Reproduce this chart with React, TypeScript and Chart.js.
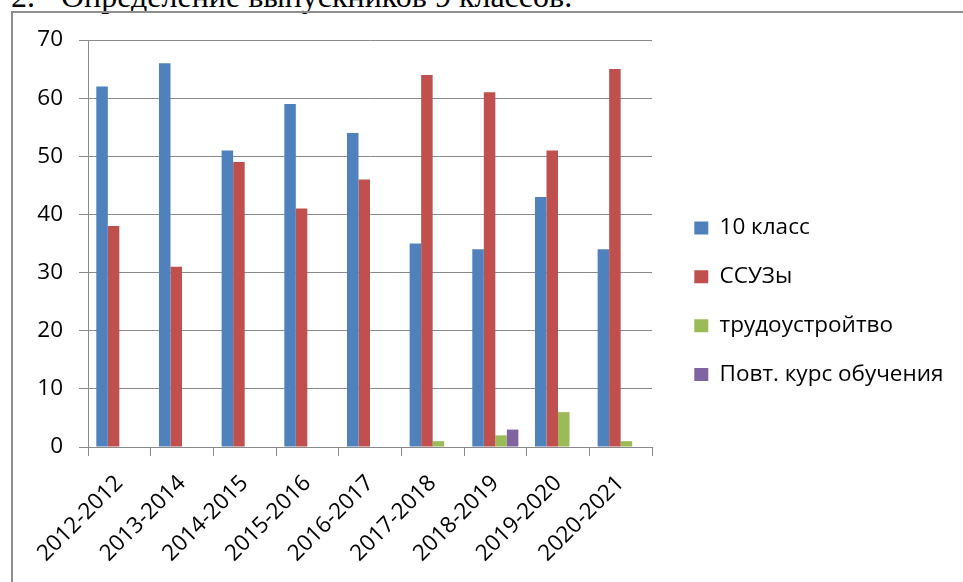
import React, { useEffect, useRef } from "react";
import { Chart, registerables } from "chart.js";

Chart.register(...registerables);

const categories = [
  "2012-2012",
  "2013-2014",
  "2014-2015",
  "2015-2016",
  "2016-2017",
  "2017-2018",
  "2018-2019",
  "2019-2020",
  "2020-2021",
];
const grade10 = [62, 66, 51, 59, 54, 35, 34, 43, 34];
const colleges = [38, 31, 49, 41, 46, 64, 61, 51, 65];
const employment = [0, 0, 0, 0, 0, 1, 2, 6, 1];
const repeatCourse = [0, 0, 0, 0, 0, 0, 3, 0, 0];
const seriesNames = ["10 класс", "ССУЗы", "трудоустройтво", "Повт. курс обучения"];
const seriesColors = ["#4F81BD", "#C0504D", "#9BBB59", "#8064A2"];
const yMin = 0;
const yMax = 70;
const yStep = 10;

const FONT = "'Open Sans', 'DejaVu Sans', sans-serif";
const FS = 22.5;
const GRID = "#8a8a8a";
const CANVAS_W = 963;
const CANVAS_H = 582;
const PLOT_RIGHT = 652;
const LEGEND_LEFT = 668;

const legendShift = {
  id: "legendShift",
  afterLayout(chart: any) {
    const l = chart.legend;
    if (!l) return;
    const dx = LEGEND_LEFT - l.left;
    l.left += dx;
    l.right += dx;
  },
};

export default function App() {
  const canvasRef = useRef<HTMLCanvasElement | null>(null);

  useEffect(() => {
    const canvas = canvasRef.current;
    if (!canvas) return;
    const values = [grade10, colleges, employment, repeatCourse];
    const chart = new Chart(canvas, {
      type: "bar",
      data: {
        labels: categories,
        datasets: values.map((v, i) => ({
          label: seriesNames[i],
          data: v,
          backgroundColor: seriesColors[i],
          borderWidth: 0,
          categoryPercentage: 0.735,
          barPercentage: 1,
          yAxisID: "y",
        })),
      },
      plugins: [legendShift],
      options: {
        responsive: false,
        animation: false,
        devicePixelRatio: 1,
        layout: { padding: { top: 40, left: 0, right: 0, bottom: 0 } },
        plugins: {
          tooltip: { enabled: false },
          legend: {
            position: "right",
            align: "start",
            maxWidth: 300,
            title: {
              display: true,
              text: " ",
              font: { size: 10, lineHeight: 1 },
              padding: { top: 140.5, bottom: 0 },
            },
            labels: {
              boxWidth: 14,
              boxHeight: 13,
              padding: 26.3,
              color: "#000",
              font: { family: FONT, size: FS },
            },
          },
        },
        scales: {
          x: {
            type: "category",
            offset: true,
            grid: {
              offset: true,
              drawOnChartArea: false,
              drawTicks: true,
              tickLength: 9,
              color: GRID,
            },
            border: { display: true, color: GRID, width: 1 },
            ticks: {
              minRotation: 45,
              maxRotation: 45,
              autoSkip: false,
              padding: 14,
              color: "#000",
              font: { family: FONT, size: FS },
            },
            afterFit: (s: any) => {
              s.height = 135;
            },
          },
          y: {
            min: yMin,
            max: yMax,
            grid: { color: GRID, tickLength: 9, drawTicks: true },
            border: { display: true, color: GRID, width: 1 },
            ticks: {
              stepSize: yStep,
              padding: 16,
              color: "#000",
              font: { family: FONT, size: FS },
            },
            afterFit: (s: any) => {
              s.width = 88;
            },
          },
          y2: {
            position: "right",
            display: true,
            grid: { display: false, drawTicks: false },
            border: { display: false },
            ticks: { display: false },
            afterFit: (s: any) => {
              const lw = s.chart.legend ? s.chart.legend.width : 0;
              s.width = Math.max(0, CANVAS_W - PLOT_RIGHT - lw);
            },
          },
        },
      },
    });
    return () => chart.destroy();
  }, []);

  return (
    <div
      style={{
        position: "absolute",
        left: 0,
        top: 0,
        width: CANVAS_W,
        height: CANVAS_H,
        overflow: "hidden",
        background: "#fff",
      }}
    >
      <div
        style={{
          position: "absolute",
          left: 0,
          top: -20,
          fontFamily: "'Liberation Serif', 'Times New Roman', serif",
          fontSize: 32,
          lineHeight: "32px",
          whiteSpace: "nowrap",
          color: "#000",
        }}
      >
        <span style={{ position: "absolute", left: 11 }}>2.</span>
        <span style={{ position: "absolute", left: 61 }}>Определение выпускников 9 классов.</span>
      </div>
      <div
        style={{
          position: "absolute",
          left: 11,
          top: 11,
          width: 952,
          height: 571,
          borderTop: "2px solid #8f8f8f",
          borderLeft: "2px solid #8f8f8f",
          boxSizing: "border-box",
        }}
      />
      <canvas
        ref={canvasRef}
        width={CANVAS_W}
        height={CANVAS_H}
        style={{ position: "absolute", left: 0, top: 0, width: CANVAS_W, height: CANVAS_H }}
      />
    </div>
  );
}
